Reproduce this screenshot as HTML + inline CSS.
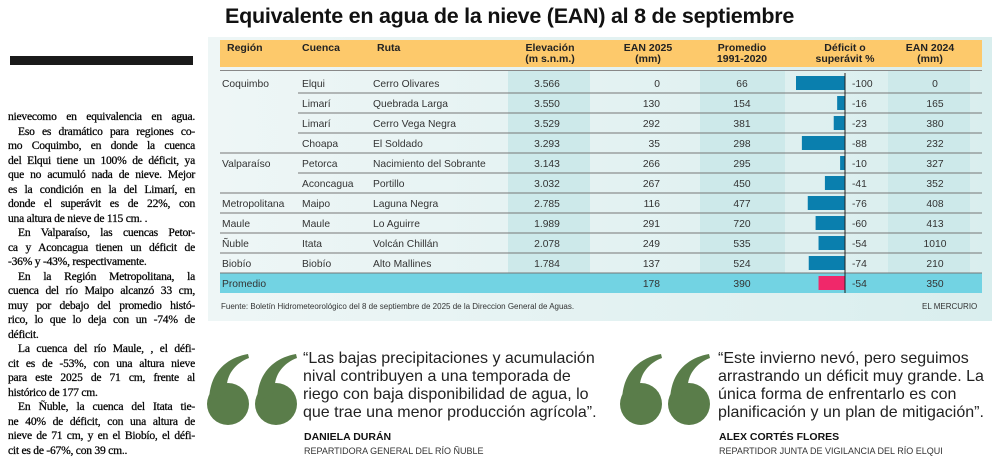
<!DOCTYPE html>
<html><head><meta charset="utf-8">
<style>
*{margin:0;padding:0;box-sizing:border-box}
html,body{width:1000px;height:466px;overflow:hidden}
body{background:#fff;position:relative;font-family:"Liberation Sans",sans-serif;color:#333}
.abs{position:absolute;white-space:nowrap}
#col{position:absolute;left:8px;top:110px;width:187px;font-family:"Liberation Serif",serif;font-size:11.6px;line-height:14.52px;color:#000;letter-spacing:-0.25px;-webkit-text-stroke:0.25px #000}
#col div{white-space:nowrap;text-align:justify;text-align-last:justify;height:14.52px;overflow:visible}
#col div.l{text-align-last:left}
#col div.i{padding-left:10px}
.q{font-size:16px;color:#222;line-height:18px;position:absolute;white-space:nowrap}
.nm{font-weight:bold;font-size:10.5px;color:#111;position:absolute}
.rl{font-size:9px;color:#333;position:absolute}
.t{font-size:10px;color:#333}
.h{font-size:10.5px;font-weight:bold;color:#222;line-height:10.5px;position:absolute;text-align:center}
</style></head><body>
<div style="position:absolute;left:10px;top:56px;width:183px;height:9px;background:#1a1a1a"></div>
<div id="col">
<div>nievecomo en equivalencia en agua.</div>
<div class="i">Eso es dramático para regiones co-</div>
<div>mo Coquimbo, en donde la cuenca</div>
<div>del Elqui tiene un 100% de déficit, ya</div>
<div>que no acumuló nada de nieve. Mejor</div>
<div>es la condición en la del Limarí, en</div>
<div>donde el superávit es de 22%, con</div>
<div class="l">una altura de nieve de 115 cm. .</div>
<div class="i">En Valparaíso, las cuencas Petor-</div>
<div>ca y Aconcagua tienen un déficit de</div>
<div class="l">-36% y -43%, respectivamente.</div>
<div class="i">En la Región Metropolitana, la</div>
<div>cuenca del río Maipo alcanzó 33 cm,</div>
<div>muy por debajo del promedio histó-</div>
<div>rico, lo que lo deja con un -74% de</div>
<div class="l">déficit.</div>
<div class="i">La cuenca del río Maule, , el défi-</div>
<div>cit es de -53%, con una altura nieve</div>
<div>para este 2025 de 71 cm, frente al</div>
<div class="l">histórico de 177 cm.</div>
<div class="i">En Ñuble, la cuenca del Itata tie-</div>
<div>ne 40% de déficit, con una altura de</div>
<div>nieve de 71 cm, y en el Biobío, el défi-</div>
<div class="l">cit es de -67%, con 39 cm..</div>
</div>

<div class="abs" style="left:225px;top:4px;font-size:21.5px;font-weight:bold;color:#111;letter-spacing:-0.25px">Equivalente en agua de la nieve (EAN) al 8 de septiembre</div>

<div style="position:absolute;left:208px;top:37px;width:784px;height:284px;background:linear-gradient(90deg,#eef6f6,#d9eeee)"></div>
<div style="position:absolute;left:220px;top:40px;width:762px;height:27px;background:#fdc96b"></div>
<div style="position:absolute;left:220px;top:70px;width:762px;height:1px;background:#888"></div>
<div class="h" style="left:227px;top:43px">Región</div>
<div class="h" style="left:302px;top:43px">Cuenca</div>
<div class="h" style="left:377px;top:43px">Ruta</div>
<div class="h" style="left:510px;top:43px;width:80px">Elevación<br>(m s.n.m.)</div>
<div class="h" style="left:608px;top:43px;width:80px">EAN 2025<br>(mm)</div>
<div class="h" style="left:702px;top:43px;width:80px">Promedio<br>1991-2020</div>
<div class="h" style="left:795px;top:43px;width:100px">Déficit o<br>superávit %</div>
<div class="h" style="left:890px;top:43px;width:80px">EAN 2024<br>(mm)</div>

<svg id="tbl" width="1000" height="466" style="position:absolute;left:0;top:0"></svg>

<div class="abs t" style="left:221px;top:302px;font-size:8px">Fuente: Boletín Hidrometeorológico del 8 de septiembre de 2025 de la Direccion General de Aguas.</div>
<div class="abs t" style="left:922px;top:302px;font-size:8px">EL MERCURIO</div>

<svg width="100" height="80" style="position:absolute;left:205px;top:352px">
<g fill="#5a7d4a"><circle cx="23" cy="52" r="21"/><path d="M4,50 C4,22 20,6 43,2 L44,6 C28,12 20,26 22,40 Z"/><circle cx="71" cy="52" r="21"/><path d="M52,50 C52,22 68,6 91,2 L92,6 C76,12 68,26 70,40 Z"/></g></svg>
<svg width="100" height="80" style="position:absolute;left:618px;top:352px">
<g fill="#5a7d4a"><circle cx="23" cy="52" r="21"/><path d="M4,50 C4,22 20,6 43,2 L44,6 C28,12 20,26 22,40 Z"/><circle cx="71" cy="52" r="21"/><path d="M52,50 C52,22 68,6 91,2 L92,6 C76,12 68,26 70,40 Z"/></g></svg>

<div class="q" style="left:303px;top:350px">“Las bajas precipitaciones y acumulación<br>nival contribuyen a una temporada de<br>riego con baja disponibilidad de agua, lo<br>que trae una menor producción agrícola”.</div>
<div class="nm" style="left:304px;top:431px">DANIELA DURÁN</div>
<div class="rl" style="left:304px;top:446px">REPARTIDORA GENERAL DEL RÍO ÑUBLE</div>

<div class="q" style="left:718px;top:350px">“Este invierno nevó, pero seguimos<br>arrastrando un déficit muy grande. La<br>única forma de enfrentarlo es con<br>planificación y un plan de mitigación”.</div>
<div class="nm" style="left:719px;top:431px">ALEX CORTÉS FLORES</div>
<div class="rl" style="left:719px;top:446px">REPARTIDOR JUNTA DE VIGILANCIA DEL RÍO ELQUI</div>

<script>
const regions=["Coquimbo","","","","Valparaíso","","Metropolitana","Maule","Ñuble","Biobío"];
const cuencas=["Elqui","Limarí","Limarí","Choapa","Petorca","Aconcagua","Maipo","Maule","Itata","Biobío"];
const rutas=["Cerro Olivares","Quebrada Larga","Cerro Vega Negra","El Soldado","Nacimiento del Sobrante","Portillo","Laguna Negra","Lo Aguirre","Volcán Chillán","Alto Mallines"];
const elevacion=["3.566","3.550","3.529","3.293","3.143","3.032","2.785","1.989","2.078","1.784"];
const ean2025=[0,130,292,35,266,267,116,291,249,137];
const promedio=[66,154,381,298,295,450,477,720,535,524];
const deficit=[-100,-16,-23,-88,-10,-41,-76,-60,-54,-74];
const ean2024=[0,165,380,232,327,352,408,413,1010,210];
const avgValues={ean2025:178,promedio:390,deficit:-54,ean2024:350};

const NS="http://www.w3.org/2000/svg";
const svg=document.getElementById('tbl');
const top0=73,rowH=20,axisX=845;
const rowY=i=>top0+i*rowH;
const barW=v=>Math.abs(v)*0.49;
function mk(tag,attrs,parent){const e=document.createElementNS(NS,tag);for(const k in attrs)e.setAttribute(k,attrs[k]);(parent||svg).appendChild(e);return e;}
function txt(x,y,s,anchor,parent){const e=mk('text',{x:x,y:y,'font-size':10.3,fill:'#333','text-anchor':anchor||'start','font-family':'Liberation Sans, sans-serif'},parent);e.textContent=s;return e;}

const nRows=cuencas.length;
[[508,82],[700,85],[888,82]].forEach(c=>{
const r=mk('rect',{x:c[0],y:top0-2,width:c[1],height:nRows*rowH+2,fill:'#cde9ea'});


});
const band=mk('rect',{x:220,y:rowY(nRows),width:762,height:rowH,fill:'#72d3e3'});



for(let i=0;i<nRows;i++){
const g=mk('g',{});


const y=rowY(i),ty=y+14;
if(regions[i])txt(222,ty,regions[i],'start',g);
txt(302,ty,cuencas[i],'start',g);
txt(373,ty,rutas[i],'start',g);
txt(547,ty,elevacion[i],'middle',g);
txt(660,ty,String(ean2025[i]),'end',g);
txt(742,ty,String(promedio[i]),'middle',g);
const b=mk('rect',{x:axisX-barW(deficit[i]),y:y+3,width:barW(deficit[i]),height:14,fill:'#0a7fae'},g);


txt(852,ty,String(deficit[i]),'start',g);
txt(935,ty,String(ean2024[i]),'middle',g);
const next=i+1;
const lx=(next<nRows&&!regions[next])?298:220;
mk('line',{x1:lx,y1:y+rowH,x2:982,y2:y+rowH,stroke:'#777','stroke-width':1},g);
}
const ga=mk('g',{});


const ay=rowY(nRows),aty=ay+14;
txt(222,aty,'Promedio','start',ga);
txt(660,aty,String(avgValues.ean2025),'end',ga);
txt(742,aty,String(avgValues.promedio),'middle',ga);
const ab=mk('rect',{x:axisX-barW(avgValues.deficit),y:ay+3,width:barW(avgValues.deficit),height:14,fill:'#f0286a'},ga);


txt(852,aty,String(avgValues.deficit),'start',ga);
txt(935,aty,String(avgValues.ean2024),'middle',ga);
const ax=mk('line',{x1:axisX,y1:top0,x2:axisX,y2:ay+rowH,stroke:'#222','stroke-width':1});


</script>
</body></html>
